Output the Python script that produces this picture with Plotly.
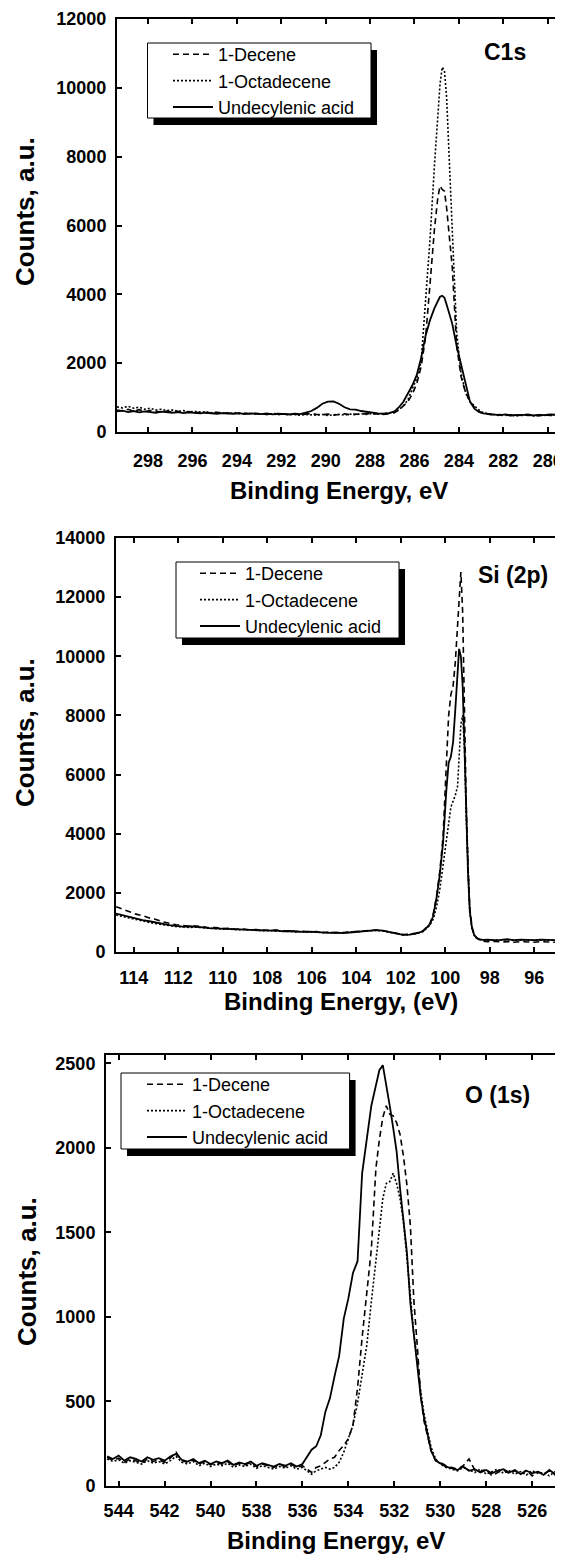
import plotly.graph_objects as go

# ---------------- data ----------------
series_names = ["1-Decene", "1-Octadecene", "Undecylenic acid"]

c1s_energy = [
    299.4, 299.15, 298.9, 298.65, 298.4, 298.15, 297.9, 297.65, 297.4, 297.15,
    296.9, 296.65, 296.4, 296.15, 295.9, 295.65, 295.4, 295.15, 294.9, 294.65,
    294.4, 294.15, 293.9, 293.65, 293.4, 293.15, 292.9, 292.65, 292.4, 292.15,
    291.9, 291.65, 291.4, 291.15, 290.9, 290.65, 290.4, 290.15, 289.9, 289.65,
    289.4, 289.15, 288.9, 288.65, 288.4, 288.15, 287.9, 287.65, 287.4, 287.15,
    286.9, 286.7, 286.5, 286.3, 286.1, 285.9, 285.7, 285.5, 285.3, 285.1,
    284.95, 284.85, 284.75, 284.65, 284.55, 284.45, 284.3, 284.1, 283.9, 283.7,
    283.5, 283.3, 283.1, 282.9, 282.65, 282.4, 282.15, 281.9, 281.65, 281.4,
    281.15, 280.9, 280.65, 280.4, 280.15, 279.9, 279.5]
c1s_decene = [
    640, 610, 660, 600, 650, 590, 620, 600, 580, 610,
    570, 600, 560, 590, 550, 580, 560, 540, 570, 550,
    540, 560, 530, 550, 520, 540, 530, 510, 540, 520,
    530, 510, 520, 500, 520, 540, 510, 500, 520, 490,
    510, 530, 500, 520, 510, 540, 520, 530, 510, 540,
    560, 640, 760, 880, 1100, 1400, 1900, 2750, 4300, 5900,
    6800, 7150, 7050, 7000, 6500, 5900, 4800, 2500, 1600, 1150,
    880, 720, 600, 540, 510, 490, 510, 480, 500, 470,
    500, 480, 490, 470, 500, 480, 490]
c1s_octadecene = [
    730, 700, 750, 690, 720, 660, 690, 640, 660, 620,
    640, 600, 620, 580, 600, 570, 590, 560, 570, 550,
    560, 540, 550, 530, 540, 520, 530, 510, 530, 500,
    520, 500, 510, 490, 510, 500, 490, 510, 480, 500,
    510, 490, 520, 500, 530, 510, 540, 520, 530, 550,
    580, 650, 760, 930, 1250, 1550, 2050, 3800, 5600, 7750,
    9200, 10100, 10600, 10500, 9700, 8000, 5900, 2900, 1700, 1150,
    880, 760, 640, 560, 520, 500, 480, 500, 470, 490,
    480, 500, 470, 490, 480, 500, 490]
c1s_undecylenic = [
    600, 620, 580, 610, 570, 600, 580, 560, 590, 570,
    560, 580, 550, 570, 560, 540, 560, 550, 530, 550,
    540, 530, 550, 520, 540, 530, 520, 540, 510, 530,
    520, 510, 530, 520, 560, 610, 700, 820, 880, 890,
    820, 720, 660, 650, 610, 580, 560, 540, 530, 550,
    600, 720, 880, 1100, 1350, 1650, 2150, 2800, 3250, 3600,
    3820, 3930, 3960, 3900, 3700, 3500, 3150, 2500, 1950, 1350,
    880, 680, 580, 540, 520, 500, 490, 510, 480, 500,
    490, 510, 480, 500, 490, 510, 500]

si_energy = [
    114.8, 114.5, 114.2, 113.9, 113.6, 113.3, 113.0, 112.7, 112.4, 112.1,
    111.8, 111.5, 111.2, 110.9, 110.6, 110.3, 110.0, 109.7, 109.4, 109.1,
    108.8, 108.5, 108.2, 107.9, 107.6, 107.3, 107.0, 106.7, 106.4, 106.1,
    105.8, 105.5, 105.2, 104.9, 104.6, 104.3, 104.0, 103.7, 103.4, 103.1,
    102.8, 102.5, 102.2, 101.9, 101.6, 101.3, 101.0, 100.85, 100.7, 100.55,
    100.4, 100.25, 100.1, 99.95, 99.85, 99.75, 99.65, 99.55, 99.45, 99.38,
    99.3, 99.22, 99.14, 99.06, 98.98, 98.9, 98.8, 98.7, 98.6, 98.45,
    98.3, 98.1, 97.8, 97.5, 97.2, 96.9, 96.6, 96.3, 96.0, 95.7,
    95.4, 95.1, 94.8]
si_decene = [
    1530, 1440, 1370, 1280, 1230, 1150, 1100, 1020, 970, 920,
    900, 870, 880, 840, 820, 830, 790, 800, 770, 780,
    750, 760, 740, 730, 740, 710, 720, 690, 700, 680,
    690, 660, 670, 650, 660, 670, 690, 710, 730, 740,
    720, 680, 620, 590, 600, 640, 720, 820, 950, 1250,
    1850, 2700, 3900, 6400, 8000, 8700, 9000, 9800, 11000, 12200,
    12850, 11500, 8000, 5000, 2900, 1500, 850, 600, 480, 400,
    370, 350, 360, 340, 350, 330, 350, 340, 330, 350,
    340, 330, 350]
si_octadecene = [
    1250, 1200, 1130, 1080, 1040, 1000, 960, 920, 890, 860,
    850, 830, 840, 810, 800, 790, 770, 780, 750, 760,
    740, 730, 720, 730, 700, 710, 690, 680, 690, 670,
    680, 650, 660, 640, 650, 660, 680, 700, 720, 730,
    710, 670, 610, 580, 590, 620, 690, 780, 900, 1100,
    1500, 2100, 2900, 3700, 4300, 4900, 5100, 5300, 5600, 6500,
    7700, 8000, 7000, 4600, 2600, 1350, 780, 560, 470, 420,
    400, 410, 390, 400, 410, 390, 400, 410, 390, 400,
    410, 390, 400]
si_undecylenic = [
    1300, 1240, 1180, 1120, 1080, 1040, 990, 950, 910, 880,
    860, 870, 840, 830, 810, 800, 790, 770, 780, 760,
    750, 740, 730, 720, 730, 700, 710, 690, 680, 690,
    670, 660, 650, 660, 640, 660, 680, 700, 720, 740,
    720, 670, 610, 580, 590, 630, 700, 800, 930, 1200,
    1800, 2600, 3700, 5500, 6400, 6600, 7100, 8200, 9600, 10250,
    10000, 9000, 7000, 4600, 2700, 1400, 800, 580, 480, 430,
    410, 420, 400, 410, 430, 400, 420, 410, 400, 420,
    410, 400, 420]

o_energy = [
    544.5, 544.25, 544.0, 543.75, 543.5, 543.25, 543.0, 542.75, 542.5, 542.25,
    542.0, 541.75, 541.5, 541.25, 541.0, 540.75, 540.5, 540.25, 540.0, 539.75,
    539.5, 539.25, 539.0, 538.75, 538.5, 538.25, 538.0, 537.75, 537.5, 537.25,
    537.0, 536.75, 536.5, 536.25, 536.0, 535.8, 535.6, 535.4, 535.2, 535.0,
    534.8, 534.6, 534.4, 534.2, 534.0, 533.8, 533.6, 533.4, 533.2, 533.0,
    532.8, 532.65, 532.5, 532.35, 532.2, 532.05, 531.9, 531.75, 531.6, 531.45,
    531.3, 531.15, 531.0, 530.85, 530.7, 530.55, 530.4, 530.2, 530.0, 529.75,
    529.5, 529.25, 529.0, 528.75, 528.5, 528.25, 528.0, 527.75, 527.5, 527.25,
    527.0, 526.75, 526.5, 526.25, 526.0, 525.75, 525.5, 525.25, 525.0, 524.75]
o_decene = [
    170, 150, 165, 140, 160, 150, 135, 160, 145, 155,
    140, 165, 200, 150, 140, 155, 130, 145, 125, 140,
    130, 145, 120, 135, 125, 140, 115, 130, 120, 110,
    125, 115, 130, 110, 120, 100, 80, 110, 120, 140,
    160, 170, 210, 240, 280, 360, 580, 880, 1130, 1400,
    1880, 2050, 2180, 2250, 2200, 2190, 2150, 2080, 1950, 1780,
    1540, 1100, 830, 530, 380, 300, 210, 150, 140, 120,
    110, 100, 120, 160, 95, 85, 100, 60, 80, 95,
    75, 90, 70, 95, 60, 85, 70, 90, 65, 80]
o_octadecene = [
    160, 145, 155, 135, 150, 140, 130, 150, 135, 145,
    130, 150, 175, 140, 130, 145, 120, 135, 115, 130,
    120, 135, 110, 125, 115, 130, 105, 120, 110, 100,
    115, 105, 120, 100, 110, 90, 70, 90, 100, 110,
    100, 110, 140, 200, 280, 360, 490, 660, 830, 1090,
    1330, 1530, 1700, 1790, 1800, 1850, 1790, 1700, 1560, 1350,
    1100, 900, 740, 560, 420, 320, 230, 160, 130, 110,
    100, 90, 110, 95, 80, 100, 70, 85, 100, 75,
    90, 70, 85, 65, 90, 75, 80, 60, 85, 70]
o_undecylenic = [
    175, 160, 180, 150, 170, 160, 145, 170, 155, 165,
    150, 175, 190, 155, 145, 160, 135, 150, 130, 145,
    135, 150, 125, 140, 130, 145, 120, 135, 125, 115,
    130, 120, 135, 115, 130, 175, 215, 235, 300, 440,
    520, 650, 770, 990, 1110, 1260, 1330, 1850, 2050, 2250,
    2370, 2460, 2490, 2380, 2250, 2120, 1980, 1760, 1570, 1380,
    1080, 900, 720, 530, 400, 300, 210, 150, 135, 115,
    105, 95, 115, 90, 100, 80, 95, 75, 90, 100,
    80, 95, 70, 90, 75, 85, 65, 95, 70, 85]

c1s_xticks = [298, 296, 294, 292, 290, 288, 286, 284, 282, 280]
si_xticks = [114, 112, 110, 108, 106, 104, 102, 100, 98, 96]
o_xticks = [544, 542, 540, 538, 536, 534, 532, 530, 528, 526]
c1s_yticks = [0, 2000, 4000, 6000, 8000, 10000, 12000]
si_yticks = [0, 2000, 4000, 6000, 8000, 10000, 12000, 14000]
o_yticks = [0, 500, 1000, 1500, 2000, 2500]

panel_labels = ["C1s", "Si (2p)", "O (1s)"]
x_titles = ["Binding Energy, eV", "Binding Energy, (eV)", "Binding Energy, eV"]
y_title = "Counts, a.u."

# ---------------- layout helpers ----------------
W, H = 563, 1557          # browser window
OFF = 8                   # default body margin of the page
FW, FH = W - OFF, H - OFF  # figure size so that it ends at the window edge
FONT = "Liberation Sans, Arial, sans-serif"


def fx(px):
    return (px - OFF) / FW


def fy(py):
    return 1 - (py - OFF) / FH


styles = [
    dict(color="black", width=1.6, dash="6px,4px"),
    dict(color="black", width=1.6, dash="2px,2px"),
    dict(color="black", width=1.8, dash="solid"),
]

panels = [
    dict(energy=c1s_energy, ys=[c1s_decene, c1s_octadecene, c1s_undecylenic],
         xr=[299.4, 279.4], yr=[0, 12000], xt=c1s_xticks, yt=c1s_yticks,
         box=(117, 19, 561, 432), xstand=11,
         leg=(168, 36), legbox=(147.5, 43, 371, 118),
         label=(505, 52), ytitle=(25, 212), xtitle=(339, 490)),
    dict(energy=si_energy, ys=[si_decene, si_octadecene, si_undecylenic],
         xr=[114.8, 94.8], yr=[0, 14000], xt=si_xticks, yt=si_yticks,
         box=(116, 538, 561, 952), xstand=8,
         leg=(195, 555), legbox=(176, 562, 399, 638),
         label=(513, 575), ytitle=(25, 733), xtitle=(341, 1001)),
    dict(energy=o_energy, ys=[o_decene, o_octadecene, o_undecylenic],
         xr=[544.55, 524.7], yr=[0, 2550], xt=o_xticks, yt=o_yticks,
         box=(106, 1055, 562, 1486), xstand=7,
         leg=(142, 1066), legbox=(121, 1073, 349.6, 1149),
         label=(497, 1095), ytitle=(27, 1272), xtitle=(336, 1540)),
]

fig = go.Figure()
shapes = []
annotations = []
layout = {}

for i, p in enumerate(panels):
    n = "" if i == 0 else str(i + 1)
    legkey = "legend" + n
    for k, name in enumerate(series_names):
        fig.add_trace(go.Scatter(
            x=p["energy"], y=p["ys"][k], mode="lines", name=name,
            line=styles[k], xaxis="x" + n, yaxis="y" + n, legend=legkey,
            showlegend=True))
    l, t, r, b = p["box"]
    axis_common = dict(
        showline=True, linewidth=2, linecolor="black", mirror="ticks",
        ticks="inside", ticklen=5, tickwidth=1.5, tickcolor="black",
        showgrid=False, zeroline=False, automargin=False,
        ticklabeloverflow="allow",
        tickfont=dict(family=FONT, size=18, color="black", weight="bold"),
    )
    layout["xaxis" + n] = dict(
        axis_common, domain=[fx(l), fx(r)], range=p["xr"], tickvals=p["xt"],
        anchor="y" + n, ticklabelstandoff=p["xstand"])
    layout["yaxis" + n] = dict(
        axis_common, domain=[fy(b), fy(t)], range=p["yr"], tickvals=p["yt"],
        tickformat="d", anchor="x" + n, ticklabelstandoff=5)
    lx, ly = p["leg"]
    layout[legkey] = dict(
        x=fx(lx), y=fy(ly), xanchor="left", yanchor="top",
        bgcolor="rgba(0,0,0,0)", borderwidth=0, tracegroupgap=0, itemwidth=40,
        font=dict(family=FONT, size=18, color="black"))
    bl, bt, br, bb = p["legbox"]
    shapes.append(dict(type="rect", xref="paper", yref="paper",
                       x0=fx(bl + 6), x1=fx(br + 6), y0=fy(bb + 7), y1=fy(bt + 7),
                       fillcolor="black", line=dict(width=0), layer="above"))
    shapes.append(dict(type="rect", xref="paper", yref="paper",
                       x0=fx(bl), x1=fx(br), y0=fy(bb), y1=fy(bt),
                       fillcolor="white", line=dict(color="black", width=1),
                       layer="above"))
    cx, cy = p["label"]
    annotations.append(dict(text=panel_labels[i], x=fx(cx), y=fy(cy), xref="paper",
                            yref="paper", showarrow=False, xanchor="center",
                            yanchor="middle",
                            font=dict(family=FONT, size=23, color="black", weight="bold")))
    tx, ty = p["ytitle"]
    annotations.append(dict(text=y_title, x=fx(tx), y=fy(ty), xref="paper", yref="paper",
                            showarrow=False, textangle=-90, xanchor="center",
                            yanchor="middle",
                            font=dict(family=FONT, size=26, color="black", weight="bold")))
    tx, ty = p["xtitle"]
    annotations.append(dict(text=x_titles[i], x=fx(tx), y=fy(ty), xref="paper",
                            yref="paper", showarrow=False, xanchor="center",
                            yanchor="middle",
                            font=dict(family=FONT, size=24, color="black", weight="bold")))

fig.update_layout(
    width=FW, height=FH, margin=dict(l=0, r=0, t=0, b=0),
    paper_bgcolor="white", plot_bgcolor="white",
    shapes=shapes, annotations=annotations, showlegend=True,
    **layout)

fig.write_html("out.html")
